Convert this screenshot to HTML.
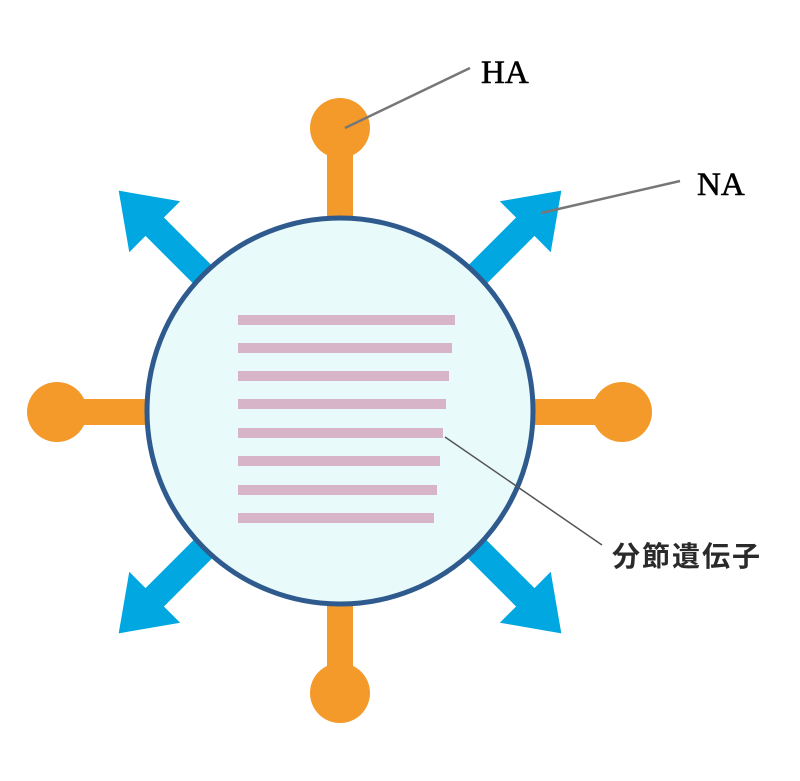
<!DOCTYPE html>
<html><head><meta charset="utf-8"><style>body{margin:0;background:#fff}svg{display:block}</style></head><body>
<svg width="800" height="781" viewBox="0 0 800 781" xmlns="http://www.w3.org/2000/svg">
<g fill="#00a7e1">
<polygon points="150,-13 262,-13 262,-36 313,0 262,36 262,13 150,13" transform="translate(340,412) rotate(-45)"/>
<polygon points="150,-13 262,-13 262,-36 313,0 262,36 262,13 150,13" transform="translate(340,412) rotate(-135)"/>
<polygon points="150,-13 262,-13 262,-36 313,0 262,36 262,13 150,13" transform="translate(340,412) rotate(45)"/>
<polygon points="150,-13 262,-13 262,-36 313,0 262,36 262,13 150,13" transform="translate(340,412) rotate(135)"/>
</g>
<g fill="#f39a2b">
<rect x="327" y="128" width="26" height="100"/><circle cx="340" cy="128" r="30"/>
<rect x="327" y="596" width="26" height="100"/><circle cx="340" cy="693" r="30"/>
<rect x="57" y="399" width="100" height="26"/><circle cx="57" cy="412" r="30"/>
<rect x="523" y="399" width="100" height="26"/><circle cx="622" cy="412" r="30"/>
</g>
<circle cx="340" cy="411" r="193" fill="#e8fafa" stroke="#2e5a8e" stroke-width="5"/>
<g fill="#d8b4c8">
<rect x="238" y="315" width="217" height="10"/>
<rect x="238" y="343" width="214" height="10"/>
<rect x="238" y="371" width="211" height="10"/>
<rect x="238" y="399" width="208" height="10"/>
<rect x="238" y="428" width="205" height="10"/>
<rect x="238" y="456" width="202" height="10"/>
<rect x="238" y="485" width="199" height="10"/>
<rect x="238" y="513" width="196" height="10"/>
</g>
<g stroke="#777" stroke-width="2.5" fill="none">
<line x1="345" y1="128" x2="470" y2="68"/>
<line x1="541" y1="213" x2="680" y2="181"/>
</g>
<line x1="445" y1="437" x2="602" y2="545" stroke="#555" stroke-width="1.5"/>
<text x="481" y="83" font-family="Liberation Serif, serif" font-size="33" stroke="#000" stroke-width="0.6">HA</text>
<text x="697" y="195" font-family="Liberation Serif, serif" font-size="33" stroke="#000" stroke-width="0.6">NA</text>
<text x="612" y="566" font-family="Liberation Sans, 'Noto Sans CJK JP', sans-serif" font-size="28" font-weight="bold" letter-spacing="2" fill="#2a2a2a">分節遺伝子</text>
</svg>
</body></html>
